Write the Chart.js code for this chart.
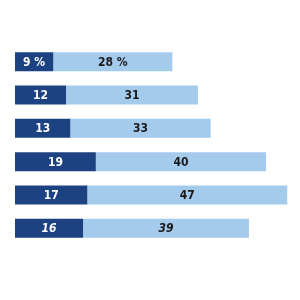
<!DOCTYPE html>
<html>
<head>
<meta charset="utf-8">
<script src="https://cdn.jsdelivr.net/npm/chart.js@4/dist/chart.umd.min.js"></script>
<style>
  html, body { margin: 0; padding: 0; background: #fff; }
  #wrap { width: 300px; height: 300px; }
</style>
</head>
<body>
<div id="wrap"><canvas id="barChart"></canvas></div>
<script>
var rows = ['r1', 'r2', 'r3', 'r4', 'r5', 'r6'];
var firstValues = [9, 12, 13, 19, 17, 16];
var secondValues = [28, 31, 33, 40, 47, 39];
var firstLabels = ['9 %', '12', '13', '19', '17', '16'];
var secondLabels = ['28 %', '31', '33', '40', '47', '39'];
var italicRows = [false, false, false, false, false, true];

// draws the numbers in the middle of every segment
var segmentLabels = {
    id: 'segmentLabels',
    afterDatasetsDraw: function(chart) {
        var ctx = chart.ctx;
        var texts = [firstLabels, secondLabels];
        var colors = ['#ffffff', '#1a1a1a'];
        ctx.save();
        ctx.textAlign = 'center';
        ctx.textBaseline = 'middle';
        chart.data.datasets.forEach(function(ds, d) {
            chart.getDatasetMeta(d).data.forEach(function(bar, i) {
                var style = italicRows[i] ? 'italic bold' : 'bold';
                ctx.font = style + ' 12px "Liberation Sans Narrow", "DejaVu Sans Condensed", Roboto, sans-serif';
                ctx.fillStyle = colors[d];
                var cx = (bar.x + bar.base) / 2;
                ctx.fillText(texts[d][i], cx, bar.y + 1);
            });
        });
        ctx.restore();
    }
};

var ctx = document.getElementById('barChart').getContext('2d');
var myChart = new Chart(ctx, {
    type: 'bar',
    data: {
        labels: rows,
        datasets: [{
            data: firstValues,
            backgroundColor: '#1c4282',
            borderWidth: 0,
            barPercentage: 0.57,
            categoryPercentage: 1
        }, {
            data: secondValues,
            backgroundColor: '#a4caec',
            borderWidth: 0,
            barPercentage: 0.57,
            categoryPercentage: 1
        }]
    },
    options: {
        indexAxis: 'y',
        responsive: true,
        maintainAspectRatio: false,
        animation: false,
        layout: { padding: { left: 15, right: 0, top: 45, bottom: 55 } },
        plugins: {
            legend: { display: false },
            tooltip: { enabled: false }
        },
        scales: {
            x: { stacked: true, min: 0, max: 67, display: false },
            y: { stacked: true, display: false }
        }
    },
    plugins: [segmentLabels]
});
</script>
</body>
</html>
